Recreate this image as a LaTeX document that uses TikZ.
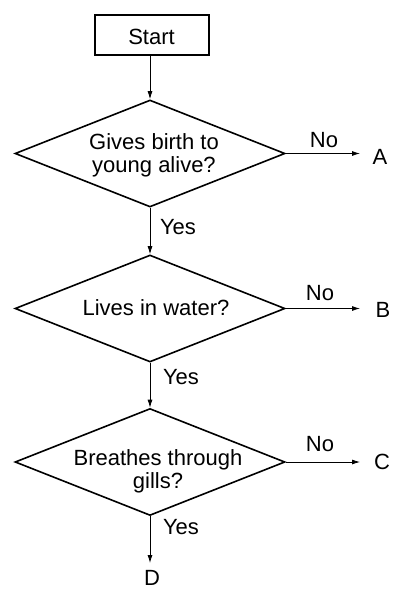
\documentclass[tikz,border=0pt]{standalone}
\usepackage{fontspec}
\setmainfont{Liberation Sans}
\usetikzlibrary{shapes.geometric,arrows.meta}
\begin{document}
\begin{tikzpicture}[x=1pt,y=-1pt,
  txt/.style={font=\fontsize{22}{23}\selectfont, align=center, inner sep=0pt},
  decision/.style={draw, line width=1.6pt, shape=diamond, minimum width=270pt, minimum height=107pt, inner sep=0pt},
  startbox/.style={draw, line width=1.6pt, minimum width=114pt, minimum height=40pt, inner sep=0pt},
  flow/.style={-{Latex[length=8pt,width=5pt]}, line width=0.8pt}]
\useasboundingbox (0,0) rectangle (411,591);
\node[startbox] (start) at (152,35) {};
\node[txt] (tstart) at (151.5,37) {Start};
\node[decision] (d1) at (150,153.5) {};
\node[decision] (d2) at (150,308.5) {};
\node[decision] (d3) at (150,462) {};
\node[txt] (t1) at (154,155.5) {Gives birth to\\young alive?};
\node[txt] (t2) at (156,308) {Lives in water?};
\node[txt] (t3) at (158,471) {Breathes through\\gills?};
\coordinate (e1) at (360,153.5);
\coordinate (e2) at (360,308.5);
\coordinate (e3) at (360,462);
\coordinate (e4) at (150,563);
\node[txt] (no1) at (324,140) {No};
\node[txt] (no2) at (320,293) {No};
\node[txt] (no3) at (320,444.5) {No};
\node[txt] (A) at (380,157) {A};
\node[txt] (B) at (383,310) {B};
\node[txt] (C) at (382,462) {C};
\node[txt] (y1) at (178,227) {Yes};
\node[txt] (y2) at (181,377) {Yes};
\node[txt] (y3) at (181,527) {Yes};
\node[txt] (D) at (152,578) {D};
\draw[flow] (d1.north |- start.south) -- (d1.north);
\draw[flow] (d1.south) -- (d2.north);
\draw[flow] (d2.south) -- (d3.north);
\draw[flow] (d3.south) -- (e4);
\draw[flow] (d1.east) -- (e1);
\draw[flow] (d2.east) -- (e2);
\draw[flow] (d3.east) -- (e3);
\end{tikzpicture}
\end{document}
